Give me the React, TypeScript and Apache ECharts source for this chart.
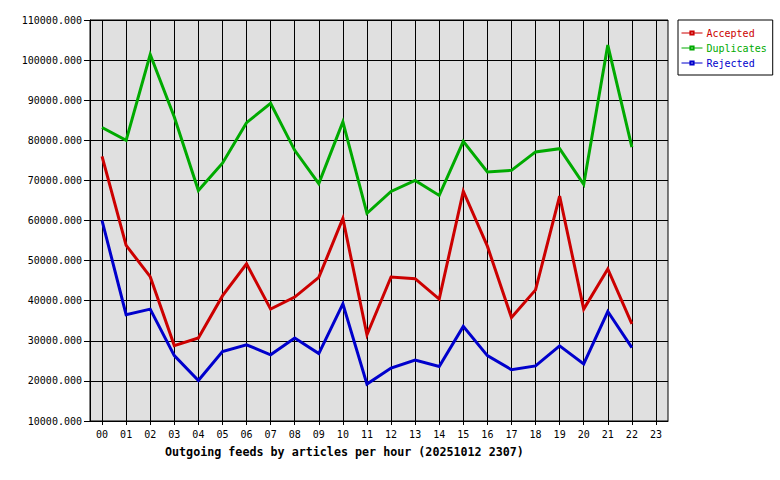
import React, { useEffect, useRef } from "react";
import * as echarts from "echarts";

const hours = ["00","01","02","03","04","05","06","07","08","09","10","11","12","13","14","15","16","17","18","19","20","21","22","23"];
const accepted = [76000, 53800, 46000, 28800, 30700, 41200, 49200, 37900, 40900, 45800, 60500, 31500, 45900, 45500, 40400, 67300, 53600, 35800, 42700, 66100, 37900, 47900, 34200];
const duplicates = [83200, 80000, 101400, 85800, 67500, 74300, 84400, 89200, 77500, 69200, 84600, 61800, 67250, 70000, 66250, 79750, 72100, 72500, 77100, 77900, 69000, 103750, 78300];
const rejected = [60000, 36500, 37900, 26300, 20100, 27300, 29000, 26500, 30700, 26800, 39200, 19200, 23200, 25200, 23600, 33600, 26300, 22800, 23750, 28750, 24250, 37300, 28300];
const titleText = "Outgoing feeds by articles per hour (20251012 2307)";

const RED = "#cc0000";
const GREEN = "#00aa00";
const BLUE = "#0000cc";
const MONO = "'DejaVu Sans Mono', 'Liberation Mono', monospace";

export default function App() {
  const ref = useRef<HTMLDivElement>(null);
  useEffect(() => {
    if (!ref.current) return;
    const chart = echarts.init(ref.current, null, { renderer: "svg" });
    const mk = (name: string, data: number[], color: string) => ({
      name,
      type: "line",
      data,
      showSymbol: false,
      symbol: "emptyRect",
      symbolSize: 4,
      color,
      lineStyle: { color, width: 3, join: "miter" },
      itemStyle: { color, borderColor: color },
      emphasis: { disabled: true },
    });
    chart.setOption({
      animation: false,
      backgroundColor: "#ffffff",
      textStyle: { fontFamily: MONO },
      title: {
        text: titleText,
        left: 165,
        top: 446,
        padding: 0,
        textStyle: { fontFamily: MONO, fontWeight: "bold", fontSize: 11.7, color: "#000" },
      },
      legend: {
        orient: "vertical",
        left: 678,
        top: 20,
        padding: [8, 6, 7, 3],
        backgroundColor: "#ffffff",
        borderColor: "#000000",
        borderWidth: 1,
        borderRadius: 0,
        itemWidth: 21,
        itemHeight: 4,
        itemGap: 5,
        lineStyle: { width: 1 },
        itemStyle: { borderWidth: 1 },
        textStyle: { fontFamily: MONO, fontSize: 10, lineHeight: 10, padding: [0, 0, 0, -1] },
        data: [
          { name: "Accepted", textStyle: { color: RED } },
          { name: "Duplicates", textStyle: { color: GREEN } },
          { name: "Rejected", textStyle: { color: BLUE } },
        ],
      },
      grid: {
        left: 90,
        top: 20,
        width: 578,
        height: 401,
        show: true,
        backgroundColor: "#e0e0e0",
        borderColor: "#000000",
        borderWidth: 1,
        containLabel: false,
      },
      xAxis: {
        type: "category",
        data: hours,
        boundaryGap: true,
        axisLine: { show: true, lineStyle: { color: "#000", width: 1 } },
        axisTick: { show: true, alignWithLabel: true, length: 4, lineStyle: { color: "#000" } },
        axisLabel: { color: "#000", fontFamily: MONO, fontSize: 10, margin: 8, interval: 0 },
        splitLine: { show: true, alignWithLabel: true, lineStyle: { color: "#000", width: 1 } },
      },
      yAxis: {
        type: "value",
        min: 10000,
        max: 110000,
        interval: 10000,
        axisLine: { show: true, lineStyle: { color: "#000", width: 1 } },
        axisTick: { show: true, length: 6, lineStyle: { color: "#000" } },
        axisLabel: {
          color: "#000",
          fontFamily: MONO,
          fontSize: 10,
          margin: 8,
          formatter: (v: number) => v.toFixed(3),
        },
        splitLine: { show: true, lineStyle: { color: "#000", width: 1 } },
      },
      series: [
        mk("Accepted", accepted, RED),
        mk("Duplicates", duplicates, GREEN),
        mk("Rejected", rejected, BLUE),
      ],
    });
    return () => chart.dispose();
  }, []);
  return <div ref={ref} style={{ width: 780, height: 480, position: "absolute", left: 0, top: 0 }} />;
}
